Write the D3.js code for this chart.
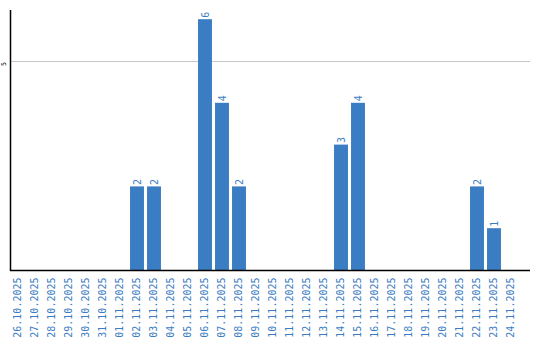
<!DOCTYPE html>
<html>
<head>
<meta charset="utf-8">
<script src="https://cdn.jsdelivr.net/npm/d3@7"></script>
<style>
  body { margin: 0; background: #fff; }
  svg { display: block; }
</style>
</head>
<body>
<div id="container"></div>
<script>
// data
var dates = ["26.10.2025","27.10.2025","28.10.2025","29.10.2025","30.10.2025","31.10.2025",
  "01.11.2025","02.11.2025","03.11.2025","04.11.2025","05.11.2025","06.11.2025","07.11.2025",
  "08.11.2025","09.11.2025","10.11.2025","11.11.2025","12.11.2025","13.11.2025","14.11.2025",
  "15.11.2025","16.11.2025","17.11.2025","18.11.2025","19.11.2025","20.11.2025","21.11.2025",
  "22.11.2025","23.11.2025","24.11.2025"];
var counts = [0,0,0,0,0,0, 0,2,2,0,0,6,4, 2,0,0,0,0,0,3, 4,0,0,0,0,0,0, 2,1,0];
var yTicks = [5];

var w = 540, h = 340;
var plotLeft = 11, plotRight = 530, plotTop = 10, plotBottom = 270;
var barColor = "#3b7dc2";
var mono = "'DejaVu Sans Mono', monospace";

var svg = d3.select("#container").append("svg")
  .attr("width", w).attr("height", h);

var x = d3.scaleBand()
  .domain(dates)
  .range([9.5, 519.5])
  .paddingInner(0.18)
  .paddingOuter(0.09);

var y = d3.scaleLinear()
  .domain([0, 6.22])
  .range([plotBottom, plotTop]);

// gridlines
svg.selectAll(".grid")
  .data(yTicks)
  .enter().append("line")
  .attr("class", "grid")
  .attr("x1", plotLeft).attr("x2", plotRight)
  .attr("y1", function(d) { return Math.round(y(d)) + 0.5; })
  .attr("y2", function(d) { return Math.round(y(d)) + 0.5; })
  .attr("stroke", "#c8c8c8").attr("stroke-width", 1);

// y tick labels
svg.selectAll(".ytick")
  .data(yTicks)
  .enter().append("text")
  .attr("class", "ytick")
  .attr("transform", function(d) { return "translate(5.5," + (y(d) + 3) + ") rotate(-90)"; })
  .attr("text-anchor", "middle")
  .style("font", "6.5px " + mono)
  .attr("fill", "#000")
  .text(function(d) { return d; });

// bars
svg.selectAll(".bar")
  .data(counts)
  .enter().append("rect")
  .attr("class", "bar")
  .attr("x", function(d, i) { return x(dates[i]); })
  .attr("y", function(d) { return y(d); })
  .attr("width", x.bandwidth())
  .attr("height", function(d) { return plotBottom - y(d); })
  .attr("fill", barColor);

// bar value labels (only for non-zero days)
counts.forEach(function(d, i) {
  if (d <= 0) return;
  svg.append("text")
    .attr("transform", "translate(" + (x(dates[i]) + x.bandwidth() / 2 + 4) + "," + (y(d) - 1.5) + ") rotate(-90)")
    .attr("text-anchor", "start")
    .style("font", "10px " + mono)
    .attr("fill", barColor)
    .text(d);
});

// axis lines
svg.append("line")
  .attr("x1", 10.5).attr("x2", 10.5)
  .attr("y1", plotTop).attr("y2", plotBottom + 1)
  .attr("stroke", "#000").attr("stroke-width", 1.5);
svg.append("line")
  .attr("x1", 10).attr("x2", plotRight)
  .attr("y1", plotBottom + 0.5).attr("y2", plotBottom + 0.5)
  .attr("stroke", "#000").attr("stroke-width", 1.5);

// x labels
svg.selectAll(".xlab")
  .data(dates)
  .enter().append("text")
  .attr("class", "xlab")
  .attr("transform", function(d) { return "translate(" + (x(d) + x.bandwidth() / 2 + 3) + ",277.5) rotate(-90)"; })
  .attr("text-anchor", "end")
  .style("font", "10px " + mono)
  .attr("fill", barColor)
  .text(function(d) { return d; });
</script>
</body>
</html>
